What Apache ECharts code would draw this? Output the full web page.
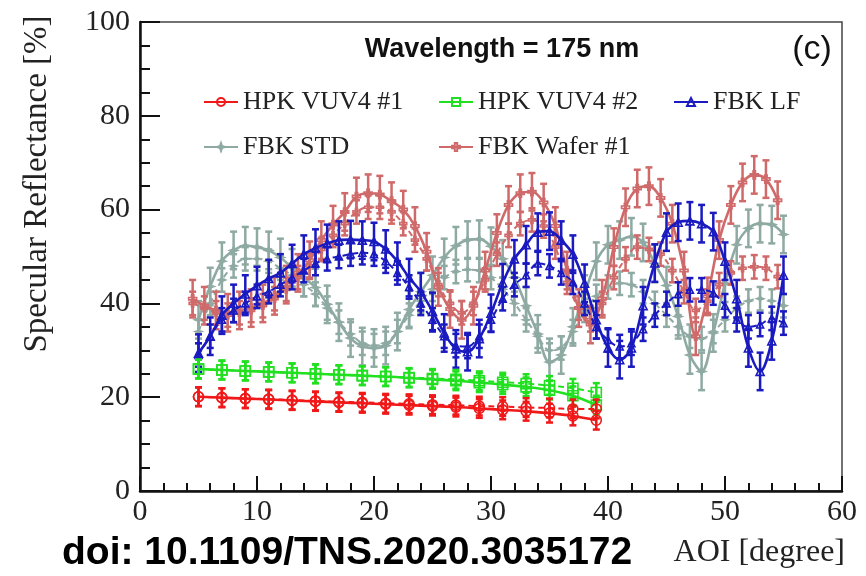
<!DOCTYPE html>
<html lang="en">
<head>
    <meta charset="UTF-8">
    <title>Specular Reflectance vs AOI</title>
    <script src="https://cdn.jsdelivr.net/npm/echarts@6/dist/echarts.min.js"></script>
    <style>
        * { margin: 0; padding: 0; }
        body { background: #fff; }
        #chart { width: 866px; height: 576px; }
    </style>
</head>
<body>
    <div id="chart"></div>
    <script>
        // AOI sample points
        const aoiHpk = [5, 7, 9, 11, 13, 15, 17, 19, 21, 23, 25, 27, 29, 31, 33, 35, 37, 39];
        const aoiFbk = [5, 6, 7, 8, 9, 10, 11, 12, 13, 14, 15, 16, 17, 18, 19, 20, 21, 22, 23, 24, 25,
            26, 27, 28, 29, 30, 31, 32, 33, 34, 35, 36, 37, 38, 39, 40, 41, 42, 43, 44, 45,
            46, 47, 48, 49, 50, 51, 52, 53, 54, 55];
        const aoiWafer = [4.5, 5.5, 6.5, 7.5, 8.5, 9.5, 10.5, 11.5, 12.5, 13.5, 14.5, 15.5, 16.5, 17.5,
            18.5, 19.5, 20.5, 21.5, 22.5, 23.5, 24.5, 25.5, 26.5, 27.5, 28.5, 29.5, 30.5, 31.5,
            32.5, 33.5, 34.5, 35.5, 36.5, 37.5, 38.5, 39.5, 40.5, 41.5, 42.5, 43.5, 44.5, 45.5,
            46.5, 47.5, 48.5, 49.5, 50.5, 51.5, 52.5, 53.5, 54.5];

        // reflectance [%] - solid = fit set, dashed = second set
        const hpk1Solid = [20.1, 19.9, 19.7, 19.5, 19.3, 19.1, 18.9, 18.7, 18.5, 18.3, 18.1, 17.9, 17.6, 17.3, 17.0, 16.6, 16.0, 15.1];
        const hpk1Dashed = [20.1, 19.9, 19.7, 19.6, 19.4, 19.2, 19.0, 18.9, 18.7, 18.6, 18.4, 18.3, 18.1, 18.0, 17.8, 17.7, 17.5, 17.5];
        const hpk2Solid = [26.0, 25.8, 25.6, 25.4, 25.2, 25.0, 24.8, 24.6, 24.4, 24.1, 23.8, 23.5, 23.1, 22.7, 22.2, 21.5, 20.3, 18.3];
        const hpk2Dashed = [26.0, 25.8, 25.6, 25.4, 25.2, 25.0, 24.8, 24.6, 24.4, 24.2, 24.0, 23.8, 23.5, 23.2, 22.9, 22.5, 21.9, 21.0];

        const lfSolid = [29.4, 33, 37.5, 40, 42, 43.8, 45.3, 46.5, 48.5, 50.5,
            51.8, 52.8, 53.5, 53.6, 53.5, 53.2, 51.6, 49, 45.5, 42.5,
            38.3, 33.7, 30.3, 29.7, 32.5, 37.9, 44.4, 49.5, 52.5, 55.2,
            55.4, 53.5, 50.5, 44.3, 36.5, 30.5, 28, 30.5, 39.5, 48.6,
            55.2, 57.3, 57.6, 57, 55.3, 49, 41, 30.5, 25.5, 32, 46];
        const lfDashed = [29, 33, 36.5, 38.5, 40, 41.5, 42.5, 44, 45.5, 47,
            48.5, 49.5, 50, 50.5, 50.8, 50.5, 49, 46.5, 43.5, 40,
            36.5, 33, 31, 30.8, 33, 36.5, 41, 44, 46, 48.5,
            48, 46.5, 44.5, 40, 35, 32.2, 30.8, 31.5, 34.5, 37.5,
            40, 42, 42.9, 42.9, 42.2, 39.5, 36.5, 35, 35.5, 36.8, 35.8];

        const stdSolid = [36.5, 43.6, 49, 51.3, 52.3, 52, 51.3, 49.8, 47.6, 45.5,
            43.4, 39.8, 36, 32.6, 30.8, 30.5, 31, 34, 38.7, 42.5,
            46, 49.8, 52.3, 53.5, 53.7, 52.2, 49.5, 45.5, 39.5, 33.5,
            27.5, 29, 35, 42, 49, 52.5, 53.5, 54.2, 53, 48.5,
            43.8, 37.2, 29, 25.5, 33.7, 44.3, 52.5, 56, 57, 56.8, 54.7];
        const stdDashed = [34, 40, 45, 48, 49.5, 49.5, 49, 47.5, 46, 44,
            42, 39, 36, 33.5, 31.5, 31, 31.5, 34, 37.5, 40.5,
            43, 45.5, 46.8, 47.2, 47, 45.5, 43, 40, 36.5, 33,
            30, 30.5, 34, 38.5, 41.5, 43.5, 44.3, 44, 42.5, 40,
            37.5, 35, 33, 32.5, 34, 36.5, 39, 40.5, 41, 40.5, 39.5];

        const waferSolid = [41, 39.5, 38.5, 38, 38.5, 39, 40, 41.6, 44, 46.5,
            49.2, 53.5, 56.8, 59.5, 62.8, 63.5, 63.2, 61.8, 60, 56.5,
            51, 43.5, 38.8, 36.5, 39.5, 47, 55, 61, 63.5, 63.8,
            61.5, 56.5, 47, 39, 35.5, 41, 52, 60.5, 64.5, 65,
            62.5, 57, 47, 33, 41.5, 53.5, 61, 65.8, 67.4, 66.5, 62];
        const waferDashed = [40, 39, 38, 37.5, 38, 38.5, 39.5, 41, 43, 45.5,
            48, 51.5, 54.5, 57, 59.5, 60.5, 60.5, 59.5, 57, 53.5,
            49.5, 44, 40, 38, 40, 45, 50.5, 54.5, 57, 57.8,
            56.5, 52, 44.5, 39, 36.5, 40, 45.5, 49.5, 52, 51.5,
            50.5, 47, 42.5, 38.5, 40.5, 44, 46.5, 47.5, 47.8, 47.5, 45.7];

        // error bar half widths [%]
        const errHpk = 2;
        const errFbk = 4;
        const errFbkDashed = 2.5;

        const xTicks = [0, 10, 20, 30, 40, 50, 60];
        const yTicks = [0, 20, 40, 60, 80, 100];

        const serif = 'Liberation Serif';
        const starPath = 'path://M5,0 L6.3,3.7 L10,5 L6.3,6.3 L5,10 L3.7,6.3 L0,5 L3.7,3.7 Z';
        const crossPath = 'path://M3.5,0 L6.5,0 L6.5,3.5 L10,3.5 L10,6.5 L6.5,6.5 L6.5,10 L3.5,10 L3.5,6.5 L0,6.5 L0,3.5 L3.5,3.5 Z';

        function pairs(xs, ys, e) {
            return xs.map((x, i) => [x, ys[i], e]);
        }

        function errorBars(data, color, z) {
            return {
                type: 'custom',
                silent: true,
                z: z,
                data: data,
                encode: { x: 0, y: 1 },
                renderItem: function (params, api) {
                    const x = api.value(0), y = api.value(1), e = api.value(2);
                    const top = api.coord([x, y + e]);
                    const bot = api.coord([x, y - e]);
                    const w = 3.5;
                    const st = { stroke: color, lineWidth: 2.5 };
                    return {
                        type: 'group',
                        children: [
                            { type: 'line', shape: { x1: top[0], y1: top[1], x2: bot[0], y2: bot[1] }, style: st },
                            { type: 'line', shape: { x1: top[0] - w, y1: top[1], x2: top[0] + w, y2: top[1] }, style: st },
                            { type: 'line', shape: { x1: bot[0] - w, y1: bot[1], x2: bot[0] + w, y2: bot[1] }, style: st }
                        ]
                    };
                }
            };
        }

        function makeSet(name, xs, ys, err, color, symbol, size, dashed, z) {
            const data = pairs(xs, ys, err);
            const line = {
                name: name,
                type: 'line',
                data: data.map(d => [d[0], d[1]]),
                smooth: 0.35,
                z: z + 1,
                symbol: symbol,
                symbolSize: size,
                showAllSymbol: true,
                lineStyle: { color: color, width: dashed ? 2 : 2.6, type: dashed ? [6, 4] : 'solid' },
                itemStyle: { color: 'rgba(255,255,255,0)', borderColor: color, borderWidth: 1.6 },
                emphasis: { disabled: true }
            };
            return [errorBars(data, color, z), line];
        }

        const cRed = '#f01818', cGreen = '#20e020', cBlue = '#1a1ac0', cGray = '#8eaaa2', cWafer = '#d06a6a';

        const series = [].concat(
            makeSet('FBK STD dashed', aoiFbk, stdDashed, errFbkDashed, cGray, starPath, 7, true, 2),
            makeSet('FBK STD', aoiFbk, stdSolid, errFbk, cGray, starPath, 8, false, 2),
            makeSet('FBK Wafer #1 dashed', aoiWafer, waferDashed, errFbkDashed, cWafer, crossPath, 7, true, 4),
            makeSet('FBK Wafer #1', aoiWafer, waferSolid, errFbk, cWafer, crossPath, 8, false, 4),
            makeSet('FBK LF dashed', aoiFbk, lfDashed, errFbkDashed, cBlue, 'triangle', 7, true, 6),
            makeSet('FBK LF', aoiFbk, lfSolid, errFbk, cBlue, 'triangle', 8, false, 6),
            makeSet('HPK VUV4 #2 dashed', aoiHpk, hpk2Dashed, errHpk, cGreen, 'rect', 10, true, 8),
            makeSet('HPK VUV4 #2', aoiHpk, hpk2Solid, errHpk, cGreen, 'rect', 10, false, 8),
            makeSet('HPK VUV4 #1 dashed', aoiHpk, hpk1Dashed, errHpk, cRed, 'circle', 10, true, 10),
            makeSet('HPK VUV4 #1', aoiHpk, hpk1Solid, errHpk, cRed, 'circle', 10, false, 10)
        );

        function legendAt(name, left, top) {
            return {
                data: [name],
                left: left,
                top: top,
                selectedMode: false,
                itemWidth: 34,
                itemHeight: 10,
                itemGap: 0,
                textStyle: { fontFamily: serif, fontSize: 26, color: '#222' }
            };
        }

        const chart = echarts.init(document.getElementById('chart'));
        chart.setOption({
            animation: false,
            backgroundColor: '#fff',
            grid: { left: 140, right: 24, top: 22, bottom: 85, show: true, borderColor: '#444', borderWidth: 1.5, backgroundColor: 'transparent' },
            legend: [
                legendAt('HPK VUV4 #1', 198, 84),
                legendAt('HPK VUV4 #2', 433, 84),
                legendAt('FBK LF', 668, 84),
                legendAt('FBK STD', 198, 129),
                legendAt('FBK Wafer #1', 433, 129)
            ],
            xAxis: {
                type: 'value',
                min: xTicks[0],
                max: xTicks[xTicks.length - 1],
                interval: xTicks[1] - xTicks[0],
                axisLine: { onZero: false, lineStyle: { color: '#111', width: 2.5 } },
                axisTick: { inside: true, length: 15, lineStyle: { color: '#111', width: 2 } },
                minorTick: { show: true, splitNumber: 5, length: 8, lineStyle: { color: '#111', width: 2 } },
                splitLine: { show: false },
                axisLabel: { fontFamily: serif, fontSize: 30, color: '#222', margin: 6 }
            },
            yAxis: {
                type: 'value',
                min: yTicks[0],
                max: yTicks[yTicks.length - 1],
                interval: yTicks[1] - yTicks[0],
                axisLine: { show: true, onZero: false, lineStyle: { color: '#111', width: 2.5 } },
                axisTick: { show: true, inside: true, length: 20, lineStyle: { color: '#111', width: 2 } },
                minorTick: { show: true, splitNumber: 4, length: 10, lineStyle: { color: '#111', width: 2 } },
                splitLine: { show: false },
                axisLabel: { fontFamily: serif, fontSize: 30, color: '#222', margin: 10 }
            },
            graphic: [
                {
                    type: 'text', x: 502, y: 50,
                    style: { text: 'Wavelength = 175 nm', font: 'bold 27px "Liberation Sans"', fill: '#111', textAlign: 'center', textVerticalAlign: 'middle' }
                },
                {
                    type: 'text', x: 812, y: 50,
                    style: { text: '(c)', font: '34px "Liberation Sans"', fill: '#111', textAlign: 'center', textVerticalAlign: 'middle' }
                },
                {
                    type: 'text', x: 37, y: 184, rotation: Math.PI / 2,
                    style: { text: 'Specular Reflectance [%]', font: '33px "Liberation Serif"', fill: '#222', textAlign: 'center', textVerticalAlign: 'middle' }
                },
                {
                    type: 'text', x: 845, y: 553,
                    style: { text: 'AOI [degree]', font: '32px "Liberation Serif"', fill: '#222', textAlign: 'right', textVerticalAlign: 'middle' }
                },
                {
                    type: 'text', x: 62, y: 553,
                    style: { text: 'doi: 10.1109/TNS.2020.3035172', font: 'bold 39px "Liberation Sans"', fill: '#000', textAlign: 'left', textVerticalAlign: 'middle' }
                }
            ],
            series: series
        });
    </script>
</body>
</html>
